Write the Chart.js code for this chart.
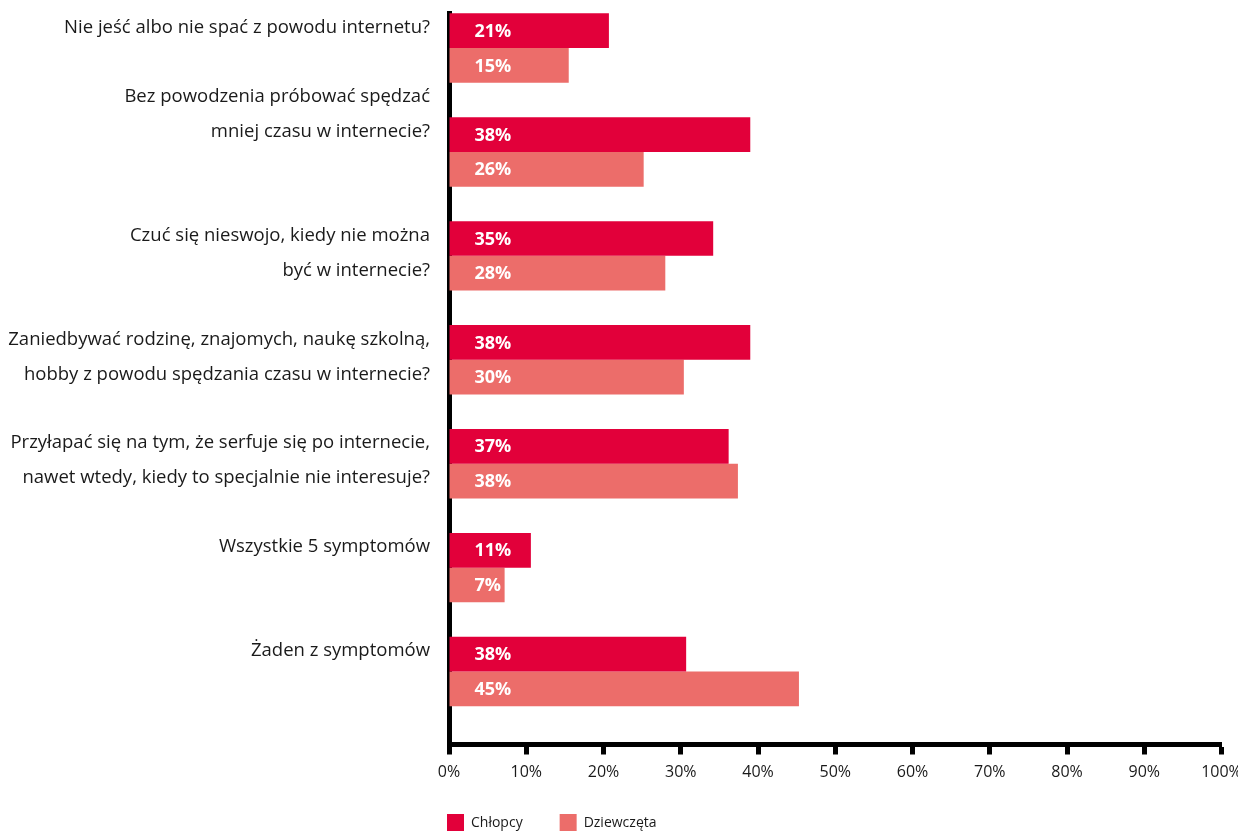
<!DOCTYPE html>
<html><head><meta charset="utf-8">
<script src="https://cdn.jsdelivr.net/npm/chart.js@4.4.1/dist/chart.umd.min.js"></script>
<style>html,body{margin:0;padding:0;background:#fff;} canvas{display:block;}</style>
</head><body>
<canvas id="c" width="1238" height="833"></canvas>
<script>
// ---- data ----
const categories = [
  ["Nie jeść albo nie spać z powodu internetu?", ""],
  ["Bez powodzenia próbować spędzać", "mniej czasu w internecie?", "", ""],
  ["Czuć się nieswojo, kiedy nie można", "być w internecie?"],
  ["Zaniedbywać rodzinę, znajomych, naukę szkolną,", "hobby z powodu spędzania czasu w internecie?"],
  ["Przyłapać się na tym, że serfuje się po internecie,", "nawet wtedy, kiedy to specjalnie nie interesuje?"],
  ["Wszystkie 5 symptomów", ""],
  ["Żaden z symptomów", ""]
];
const seriesNames = ["Chłopcy", "Dziewczęta"];
const boysValues  = [20.7, 39.0, 34.2, 39.0, 36.2, 10.6, 30.7];
const girlsValues = [15.5, 25.2, 28.0, 30.4, 37.4, 7.2, 45.3];
const boysLabels  = ["21%", "38%", "35%", "38%", "37%", "11%", "38%"];
const girlsLabels = ["15%", "26%", "28%", "30%", "38%", "7%", "45%"];
const xTicks = [0, 10, 20, 30, 40, 50, 60, 70, 80, 90, 100];

const BOYS_COLOR = "#E2003A";
const GIRLS_COLOR = "#EC6D6A";
const TEXT_COLOR = "#1a1a1a";
const FONT = "'Open Sans'";

const barLabelPlugin = {
  id: "barLabels",
  afterDatasetsDraw(chart) {
    const ctx = chart.ctx;
    ctx.save();
    ctx.font = "bold 18px " + FONT;
    ctx.fillStyle = "#ffffff";
    ctx.textAlign = "left";
    ctx.textBaseline = "middle";
    chart.data.datasets.forEach((ds, di) => {
      const meta = chart.getDatasetMeta(di);
      meta.data.forEach((el, i) => {
        ctx.fillText(ds.valueLabels[i], el.base + 25, el.y + 1);
      });
    });
    ctx.restore();
  }
};

const legendPlugin = {
  id: "customLegend",
  afterDraw(chart) {
    const ctx = chart.ctx;
    const area = chart.chartArea;
    ctx.save();
    ctx.font = "14px " + FONT;
    ctx.textAlign = "left";
    ctx.textBaseline = "middle";
    let x = area.left - 2;
    const top = area.bottom + 69.5;
    const size = 17;
    chart.data.datasets.forEach((ds) => {
      ctx.fillStyle = ds.backgroundColor;
      ctx.fillRect(x, top, size, size);
      ctx.fillStyle = TEXT_COLOR;
      ctx.fillText(ds.label, x + size + 7, top + size / 2 + 1);
      x += size + 7 + ctx.measureText(ds.label).width + 37;
    });
    ctx.restore();
  }
};

function build() {
  new Chart(document.getElementById("c"), {
    type: "bar",
    data: {
      datasets: [
        { label: seriesNames[0], data: boysValues.map((v, i) => ({ x: v, y: i })),
          backgroundColor: BOYS_COLOR, valueLabels: boysLabels },
        { label: seriesNames[1], data: girlsValues.map((v, i) => ({ x: v, y: i })),
          backgroundColor: GIRLS_COLOR, valueLabels: girlsLabels }
      ]
    },
    options: {
      indexAxis: "y",
      responsive: false,
      animation: false,
      devicePixelRatio: 1,
      categoryPercentage: 0.668,
      barPercentage: 1.0,
      layout: { padding: { top: 13, right: 16.5, left: 0, bottom: 0 } },
      plugins: { legend: { display: false }, tooltip: { enabled: false } },
      scales: {
        x: {
          type: "linear", min: 0, max: 100, z: 1, offset: false,
          afterBuildTicks: (s) => { s.ticks = xTicks.map(v => ({ value: v })); },
          afterFit: (s) => { s.height = 88.5; s.paddingLeft = 0; s.paddingRight = 0; },
          ticks: { callback: (v) => v + "%", color: TEXT_COLOR, padding: 8, autoSkip: false,
                   font: { family: FONT, size: 16 }, maxRotation: 0 },
          grid: { drawOnChartArea: false, drawTicks: true, tickLength: 10, tickWidth: 5, tickColor: "#000", offset: false },
          border: { display: true, width: 5, color: "#000" }
        },
        y: {
          type: "linear", reverse: true, min: -0.337, max: 6.702, z: 1, offset: false, bounds: "data",
          afterBuildTicks: (s) => { s.ticks = categories.map((c, i) => ({ value: i })); },
          afterFit: (s) => { s.width = 449; s.paddingTop = 0; s.paddingBottom = 0; },
          ticks: { callback: (v) => categories[v], color: TEXT_COLOR, padding: 19, labelOffset: -3, autoSkip: false,
                   font: { family: FONT, size: 18.5, lineHeight: "35px" } },
          grid: { display: false, drawTicks: false, offset: false },
          border: { display: true, width: 5, color: "#000" }
        }
      }
    },
    plugins: [barLabelPlugin, legendPlugin]
  });
}
Promise.all([
  document.fonts.load("18px 'Open Sans'"),
  document.fonts.load("bold 18px 'Open Sans'")
]).then(build, build);
</script>
</body></html>
